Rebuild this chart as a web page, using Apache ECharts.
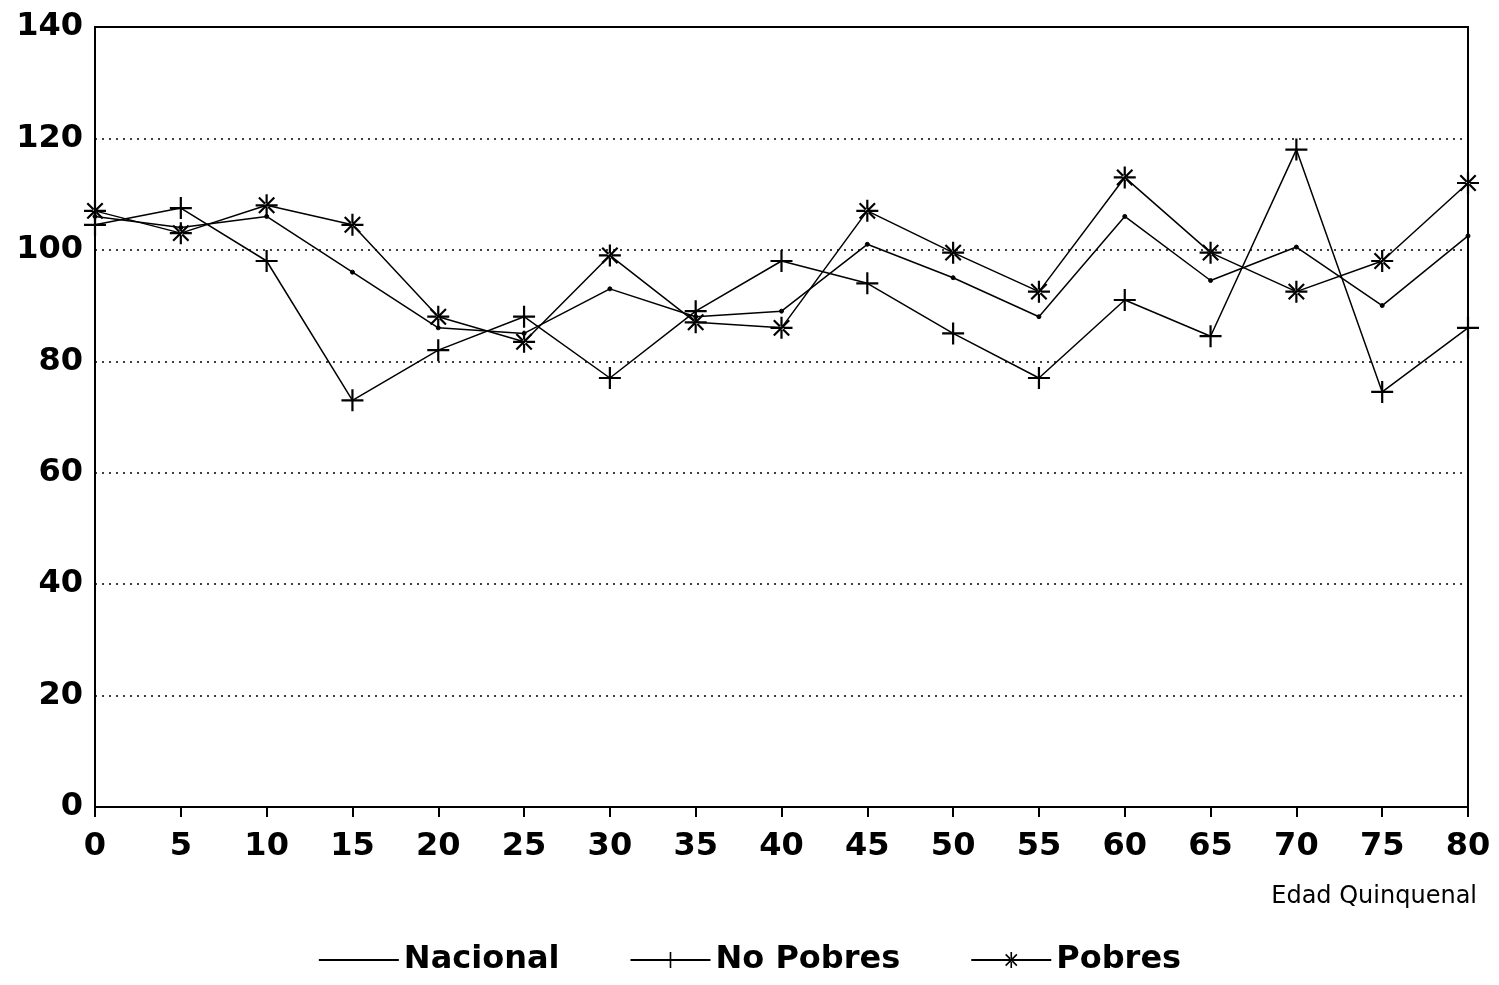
<!DOCTYPE html>
<html><head><meta charset="utf-8">
<script src="https://cdn.jsdelivr.net/npm/echarts@6/dist/echarts.min.js"></script>
<style>html,body{margin:0;background:#fff}#c{width:1499px;height:985px}</style>
</head><body><div id="c"></div>
<script>
var ages = [0,5,10,15,20,25,30,35,40,45,50,55,60,65,70,75,80];
var nacional = [106,104,106,96,86,85,93,88,89,101,95,88,106,94.5,100.5,90,102.5];
var noPobres = [104.5,107.5,98,73,82,88,77,89,98,94,85,77,91,84.5,118,74.5,86];
var pobres = [107,103,108,104.5,88,83.5,99,87,86,107,99.5,92.5,113,99.5,92.5,98,112];

var plusPath = 'path://M-1,-10H1V10H-1ZM-10,-1H10V1H-10Z';
var starPath = 'path://M-1,-10H1V10H-1ZM-10,-1H10V1H-10ZM-7.7,-6.3L6.3,7.7L7.7,6.3L-6.3,-7.7ZM-7.7,6.3L6.3,-7.7L7.7,-6.3L-6.3,7.7Z';

function pairs(v){ return ages.map(function(a,i){ return [a, v[i]]; }); }
function mk(name, vals, sym, size){
  return {name:name, type:'line', data:pairs(vals), symbol:sym, symbolSize:size,
    showSymbol:true, lineStyle:{color:'#000', width:1.5},
    itemStyle:{color:'#000', borderColor:'#000', borderWidth:sym==='circle'?1:0},
    emphasis:{disabled:true}};
}
var chart = echarts.init(document.getElementById('c'));
chart.setOption({
  animation:false,
  grid:{left:95, right:31, top:27, bottom:178, show:true, borderColor:'#000', borderWidth:2},
  xAxis:{type:'value', min:0, max:80, interval:5,
    axisLine:{lineStyle:{color:'#000', width:2}}, axisTick:{show:true, length:10, lineStyle:{color:'#000',width:2}},
    splitLine:{show:false},
    axisLabel:{color:'#000', fontSize:32, fontWeight:'bold', fontFamily:'DejaVu Sans', margin:24}},
  yAxis:{type:'value', min:0, max:140, interval:20,
    axisLine:{show:true, lineStyle:{color:'#000', width:2}}, axisTick:{show:false},
    splitLine:{show:true, lineStyle:{color:'#000', type:[2,5], width:1.5}},
    axisLabel:{color:'#000', fontSize:32, fontWeight:'bold', fontFamily:'DejaVu Sans', margin:12}},
  legend:{bottom:4, left:'center', itemWidth:80, itemHeight:20, itemGap:70,
    textStyle:{color:'#000', fontSize:32, fontWeight:'bold', fontFamily:'DejaVu Sans'},
    data:[{name:'Nacional', itemStyle:{opacity:0}},'No Pobres','Pobres']},
  graphic:[{type:'text', right:22, top:885, style:{text:'Edad Quinquenal', fill:'#000', fontSize:24, fontFamily:'DejaVu Sans'}}],
  series:[mk('Nacional', nacional, 'circle', 4), mk('No Pobres', noPobres, plusPath, 22), mk('Pobres', pobres, starPath, 22)]
});
</script></body></html>
